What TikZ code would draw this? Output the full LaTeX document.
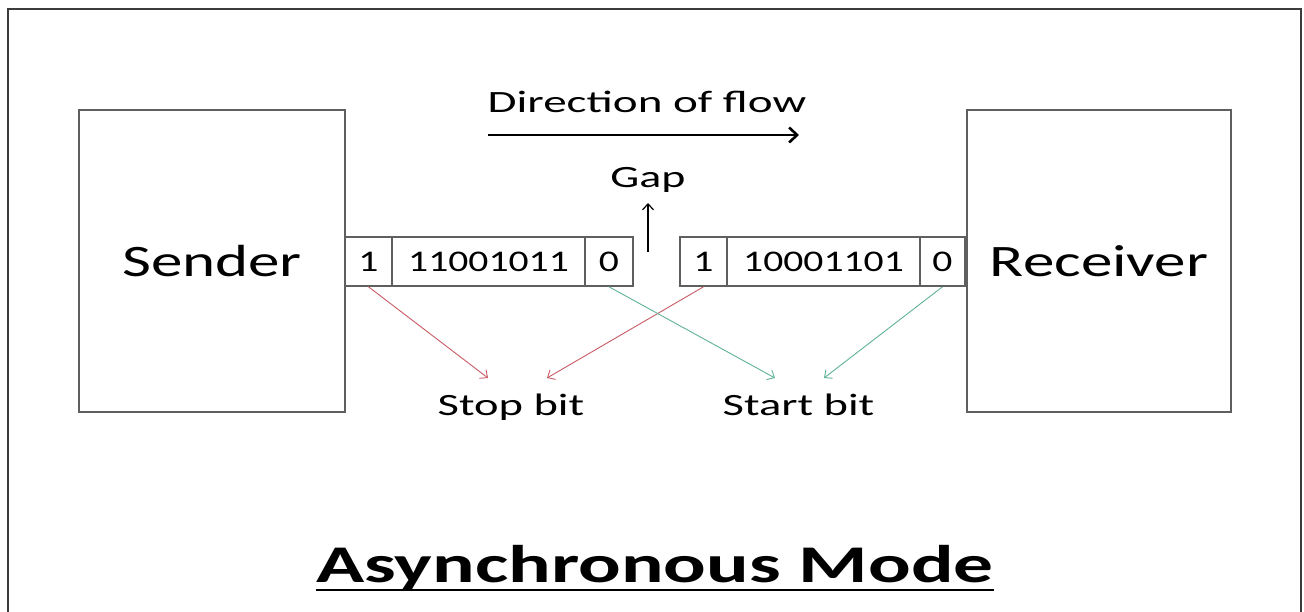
\documentclass[tikz,border=0pt]{standalone}
\usepackage{fontspec}
\setmainfont{Carlito}
\usetikzlibrary{arrows.meta}
% horizontally widened text
\newcommand{\wtext}[2]{\scalebox{#1}[1]{#2}}
\definecolor{boxgray}{RGB}{95,95,95}
\definecolor{framegray}{RGB}{60,60,60}
\definecolor{stopred}{RGB}{200,90,100}
\definecolor{startgreen}{RGB}{95,178,150}
\begin{document}
\begin{tikzpicture}[x=1pt,y=-1pt,
  bigbox/.style={draw=boxgray, line width=1.8pt, inner sep=0pt,
    font=\fontsize{45}{50}\selectfont},
  cell/.style={draw=boxgray, line width=1.6pt, inner sep=0pt,
    minimum height=49pt, font=\fontsize{30}{34}\selectfont},
  label/.style={anchor=base, inner sep=0pt, font=\fontsize{31}{36}\selectfont},
  bitarrow/.style={line width=0.9pt, -{Straight Barb[length=6pt,width=11pt]}},
  blackarrow/.style={line width=2.6pt, -{Straight Barb[length=8pt,width=15pt,line width=2.6pt]}}]
\useasboundingbox (0,0) rectangle (1304,612);

% outer frame (open at the bottom)
\draw[framegray, line width=2pt] (8,612) -- (8,9) -- (1301,9) -- (1301,612);

% end stations
\node[bigbox, minimum width=266pt, minimum height=302pt] (sender) at (212,261) {\wtext{1.4}{Sender}};
\node[bigbox, minimum width=264pt, minimum height=302pt] (receiver) at (1099,261) {\wtext{1.4}{Receiver}};

% first character frame
\node[cell, minimum width=47pt]  (l1) at (368.5,261.5) {\wtext{1.32}{1}};
\node[cell, minimum width=193pt] (ld) at (488.5,261.5) {\wtext{1.32}{11001011}};
\node[cell, minimum width=48pt]  (l0) at (609,261.5)   {\wtext{1.32}{0}};

% second character frame
\node[cell, minimum width=47pt]  (r1) at (703.5,261.5) {\wtext{1.32}{1}};
\node[cell, minimum width=193pt] (rd) at (823.5,261.5) {\wtext{1.32}{10001101}};
\node[cell, minimum width=45pt]  (r0) at (942.5,261.5) {\wtext{1.32}{0}};

% labels
\node[label] (flow) at (647,113) {\wtext{1.52}{Direction of flow}};
\node[label] (gap) at (648,188) {\wtext{1.48}{Gap}};
\node[label] (stop) at (511,415) {\wtext{1.5}{Stop bit}};
\node[label] (start) at (798.5,415) {\wtext{1.5}{Start bit}};
\node[anchor=base, inner sep=0pt, font=\bfseries\fontsize{53}{60}\selectfont] (title) at (655,582) {\wtext{1.5}{Asynchronous Mode}};
\draw[line width=2.6pt] ([yshift=-8pt]title.base west) -- ([yshift=-8pt]title.base east);

% direction of flow and gap arrows
\coordinate (flowA) at (488,135);
\coordinate (flowB) at (799,135);
\draw[blackarrow] (flowA) -- (flowB);
\coordinate (gapA) at (648,252);
\coordinate (gapB) at (648,203);
\draw[line width=1.2pt, -{Straight Barb[length=6pt,width=11pt,line width=1.2pt]}] (gapA) -- (gapB);

% stop and start bit pointers
\coordinate (stopA) at (488,378);
\coordinate (stopB) at (547,378);
\coordinate (startA) at (775,378);
\coordinate (startB) at (824,378);
\draw[bitarrow, stopred] (l1.south) -- (stopA);
\draw[bitarrow, stopred] (r1.south) -- (stopB);
\draw[bitarrow, startgreen] (l0.south) -- (startA);
\draw[bitarrow, startgreen] (r0.south) -- (startB);
\end{tikzpicture}
\end{document}
